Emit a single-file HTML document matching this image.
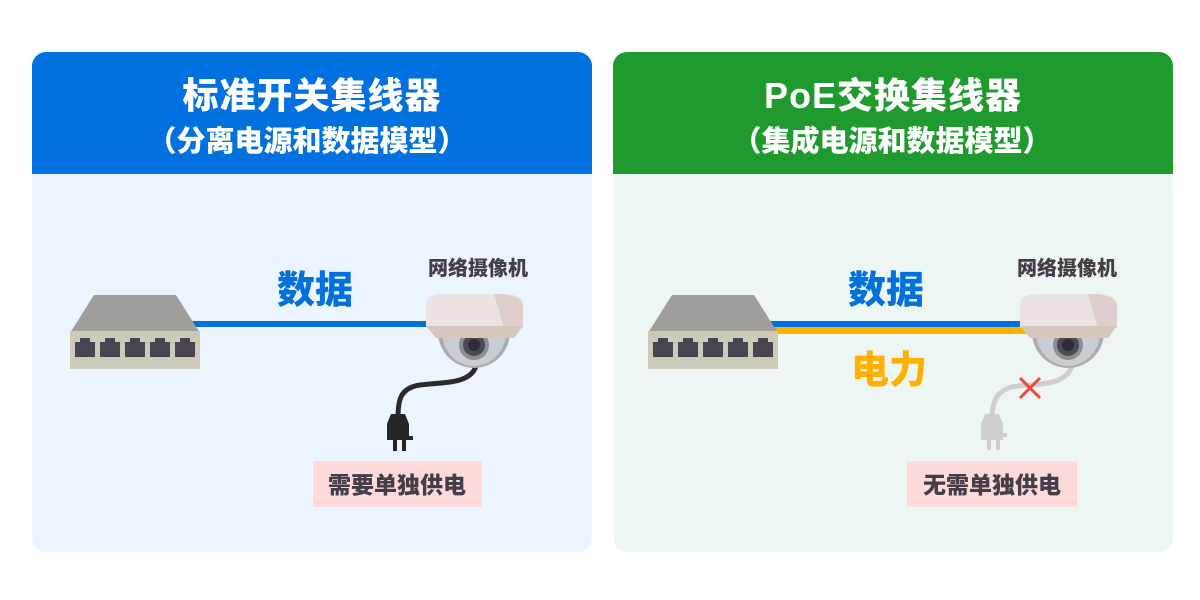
<!DOCTYPE html>
<html><head><meta charset="utf-8"><style>
html,body{margin:0;padding:0;background:#fff;}
body{width:1200px;height:600px;position:relative;overflow:hidden;font-family:"Liberation Sans","Noto Sans CJK SC",sans-serif;}
</style></head><body>
<svg width="1200" height="600" viewBox="0 0 1200 600" xmlns="http://www.w3.org/2000/svg" style="position:absolute;left:0;top:0" font-family="'Liberation Sans','Noto Sans CJK SC',sans-serif" font-weight="900">
<defs>
<clipPath id="cl"><rect x="32" y="52" width="560" height="500" rx="14"/></clipPath>
<clipPath id="cr"><rect x="613" y="52" width="560" height="500" rx="14"/></clipPath>
<g id="sw">
 <polygon points="24,0 106,0 130,38 0,38" fill="#a09e9b"/>
 <rect x="0" y="36" width="130" height="38" fill="#cfc9b9"/>
 <g fill="#4a4350">
  <path d="M5,62 v-15 h5 v-4 h10 v4 h5 v15z"/>
  <path d="M30,62 v-15 h5 v-4 h10 v4 h5 v15z"/>
  <path d="M55,62 v-15 h5 v-4 h10 v4 h5 v15z"/>
  <path d="M80,62 v-15 h5 v-4 h10 v4 h5 v15z"/>
  <path d="M105,62 v-15 h5 v-4 h10 v4 h5 v15z"/>
 </g>
</g>
<g id="cam">
 <path d="M-36,0 A36,36 0 0 0 36,0 Z" fill="#a9adb2"/>
 <path d="M-32,0 A32,34 0 0 0 32,0 Z" fill="#c9ccd0"/>
 <circle cx="0" cy="13" r="15" fill="#8d8d92"/>
 <circle cx="0" cy="13" r="11" fill="#4c4a50"/>
 <circle cx="0" cy="13" r="6" fill="#2f2d33"/>
 <path d="M-48,-30 Q-46,-38 -30,-38 L30,-38 Q49,-38 49,-26 L49,-4 L-48,-4 Z" fill="#ebe3e2"/>
 <path d="M20,-38 Q49,-38 49,-26 L49,-4 L30,-4 Z" fill="#e0cecd"/>
 <path d="M-48,-6 L49,-6 L40,6 L-38,6 Z" fill="#d6c6bc"/>
</g>
</defs>

<!-- left panel -->
<g clip-path="url(#cl)">
 <rect x="32" y="52" width="560" height="500" fill="#ecf4fe"/>
 <rect x="32" y="52" width="560" height="122" fill="#0071de"/>
</g>
<text x="312" y="108" font-size="36" fill="#fff" text-anchor="middle" letter-spacing="1">标准开关集线器</text>
<text x="307" y="151" font-size="29" fill="#fff" text-anchor="middle">（分离电源和数据模型）</text>
<text x="315" y="303" font-size="38" fill="#0071de" text-anchor="middle">数据</text>
<text x="478" y="275" font-size="20" fill="#443d4a" text-anchor="middle">网络摄像机</text>
<rect x="190" y="321" width="245" height="6" fill="#0071de"/>
<use href="#sw" x="70" y="295"/>
<path d="M476,366 C470,385 440,382 420,385 C400,388 398,400 398,418" stroke="#2b2b2b" stroke-width="5" fill="none"/>
<path d="M391,414 h14 l4,10 v16 h-22 v-16z" fill="#252525"/>
<rect x="387" y="436" width="26" height="4" fill="#252525"/>
<rect x="393" y="440" width="4" height="11" fill="#252525"/>
<rect x="402" y="440" width="4" height="11" fill="#252525"/>
<use href="#cam" x="474" y="332"/>
<rect x="313" y="461" width="169" height="46" fill="#ffdadb"/>
<text x="397" y="493" font-size="23" fill="#443d4a" text-anchor="middle">需要单独供电</text>

<!-- right panel -->
<g clip-path="url(#cr)">
 <rect x="613" y="52" width="560" height="500" fill="#eef6f3"/>
 <rect x="613" y="52" width="560" height="122" fill="#1f9a2e"/>
</g>
<text x="893" y="108" font-size="36" fill="#fff" text-anchor="middle" letter-spacing="1">PoE交换集线器</text>
<text x="892" y="151" font-size="29" fill="#fff" text-anchor="middle">（集成电源和数据模型）</text>
<text x="886" y="303" font-size="38" fill="#0071de" text-anchor="middle">数据</text>
<text x="889" y="383" font-size="38" fill="#ffb000" text-anchor="middle">电力</text>
<text x="1067" y="275" font-size="20" fill="#443d4a" text-anchor="middle">网络摄像机</text>
<rect x="768" y="321" width="262" height="6" fill="#0071de"/>
<rect x="768" y="327" width="262" height="7" fill="#ffb000"/>
<use href="#sw" x="648" y="295"/>
<path d="M1072,366 C1066,385 1040,384 1018,386 C998,388 992,400 992,418" stroke="#cfcfcf" stroke-width="5" fill="none"/>
<path d="M985,414 h14 l4,10 v16 h-22 v-16z" fill="#cfcfcf"/>
<rect x="981" y="433" width="26" height="4" fill="#cfcfcf"/>
<rect x="987" y="437" width="4" height="13" fill="#cfcfcf"/>
<rect x="996" y="437" width="4" height="13" fill="#cfcfcf"/>
<path d="M1020,378 L1040,398 M1040,378 L1020,398" stroke="#f04a3e" stroke-width="3"/>
<use href="#cam" x="1068" y="332"/>
<rect x="907" y="461" width="170" height="46" fill="#ffdadb"/>
<text x="992" y="493" font-size="23" fill="#443d4a" text-anchor="middle">无需单独供电</text>
</svg>
</body></html>
